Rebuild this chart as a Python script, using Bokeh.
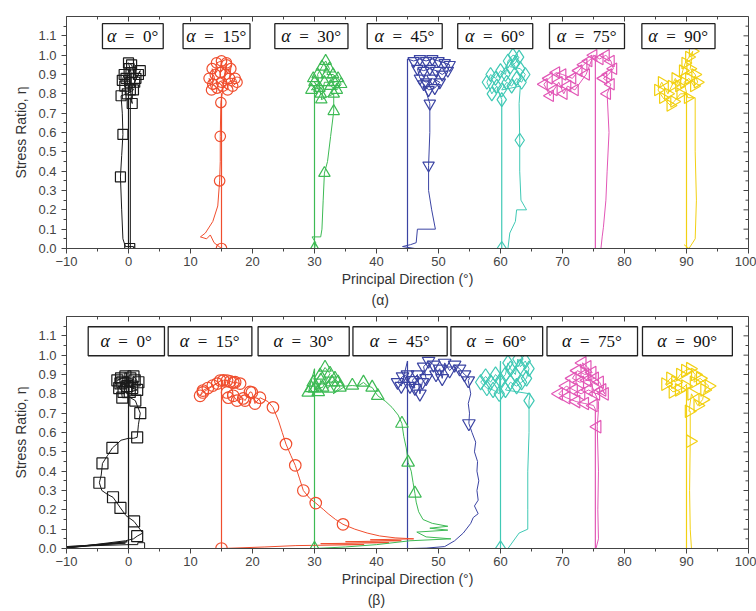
import math
from bokeh.plotting import figure
from bokeh.layouts import column
from bokeh.models import (SingleIntervalTicker, NumeralTickFormatter, Title, Range1d)
from bokeh.core.properties import value
from bokeh.embed import file_html
from bokeh.resources import INLINE

# ---------------- data ----------------
alphas = [0, 15, 30, 45, 60, 75, 90]
box_alpha = ["α"] * 7
box_rest = ["\u2002=\u20020°", "\u2002=\u200215°", "\u2002=\u200230°", "\u2002=\u200245°",
            "\u2002=\u200260°", "\u2002=\u200275°", "\u2002=\u200290°"]

# panel (a): loading verticals
a_up_x = [0.0, 15.0, 30.0, 45.0, 60.2, 75.3, 90.0]
a_up_top = [0.80, 0.80, 0.84, 0.98, 0.77, 1.00, 0.80]

a0_x = [0.3, 0.3, 0.6, 0.3, 1.0, 1.6, 1.9, 1.2, 0.5, 0.0, 0.4, -0.4, -1.0, -0.7, -0.6, 0.1, 0.2, 0.8, -0.2, -1.2, -1.0, -0.9, -1.1, -1.3, -1.1, -0.9, -0.5, 0.8, 0.8]
a0_y = [0.0, 0.78, 0.75, 0.82, 0.86, 0.90, 0.92, 0.88, 0.95, 0.96, 0.91, 0.88, 0.87, 0.90, 0.84, 0.93, 0.86, 0.82, 0.80, 0.79, 0.70, 0.59, 0.48, 0.37, 0.20, 0.05, 0.01, 0.01, 0.0]
a0_mx = [0.6, 0.3, 1.0, 1.6, 1.9, 1.2, 0.5, 0.0, 0.4, -0.4, -1.0, -0.7, -0.6, 0.1, 0.2, 0.8, -0.2, -1.2, -0.9, -1.3, 0.2]
a0_my = [0.75, 0.82, 0.86, 0.90, 0.92, 0.88, 0.95, 0.96, 0.91, 0.88, 0.87, 0.90, 0.84, 0.93, 0.86, 0.82, 0.80, 0.79, 0.59, 0.37, 0.0]

a15_x = [15.0, 14.3, 13.4, 13.0, 13.6, 13.5, 14.0, 14.2, 15.0, 14.8, 15.8, 15.6, 16.5, 16.3, 17.2, 17.5, 16.8, 15.0, 16.0, 15.2, 15.8, 14.9, 14.8, 14.8, 14.7, 14.4, 13.6, 12.4, 11.6, 12.6, 13.2, 13.8, 14.6, 15.0]
a15_y = [0.80, 0.83, 0.82, 0.88, 0.85, 0.93, 0.90, 0.96, 0.97, 0.91, 0.96, 0.90, 0.93, 0.88, 0.88, 0.86, 0.84, 0.86, 0.82, 0.84, 0.95, 0.755, 0.58, 0.45, 0.35, 0.22, 0.14, 0.08, 0.06, 0.05, 0.07, 0.03, 0.01, 0.0]
a15_mx = [14.3, 13.4, 13.0, 13.6, 13.5, 14.0, 14.2, 15.0, 14.8, 15.8, 15.6, 16.5, 16.3, 17.2, 17.5, 16.8, 15.0, 16.0, 15.2, 15.8, 14.9, 14.8, 14.7, 15.0]
a15_my = [0.83, 0.82, 0.88, 0.85, 0.93, 0.90, 0.96, 0.97, 0.91, 0.96, 0.90, 0.93, 0.88, 0.88, 0.86, 0.84, 0.86, 0.82, 0.84, 0.95, 0.755, 0.58, 0.35, 0.0]

a30_x = [30.0, 29.5, 30.8, 30.0, 31.0, 30.5, 31.2, 31.8, 32.4, 32.0, 33.0, 33.8, 34.3, 33.6, 32.6, 33.2, 31.6, 31.1, 33.1, 33.1, 32.6, 32.1, 31.6, 31.4, 31.2, 31.0, 29.6, 30.2, 30.0]
a30_y = [0.84, 0.82, 0.83, 0.86, 0.80, 0.90, 0.94, 0.97, 0.93, 0.90, 0.90, 0.88, 0.85, 0.82, 0.84, 0.86, 0.86, 0.77, 0.80, 0.71, 0.58, 0.45, 0.39, 0.25, 0.10, 0.06, 0.06, 0.03, 0.0]
a30_mx = [29.5, 30.8, 30.0, 31.0, 30.5, 31.2, 31.8, 32.4, 32.0, 33.0, 33.8, 34.3, 33.6, 32.6, 33.2, 31.6, 31.1, 33.1, 33.1, 31.6, 30.0, 29.8]
a30_my = [0.82, 0.83, 0.86, 0.80, 0.90, 0.94, 0.97, 0.93, 0.90, 0.90, 0.88, 0.85, 0.82, 0.84, 0.86, 0.86, 0.77, 0.80, 0.71, 0.39, 0.0, 0.88]

a45_x = [45.0, 46.0, 47.0, 48.0, 49.0, 50.0, 51.0, 51.8, 51.5, 50.6, 49.6, 48.6, 47.6, 46.6, 47.0, 48.0, 49.0, 50.2, 49.4, 48.4, 47.6, 48.6, 48.6, 48.4, 48.4, 48.9, 49.5, 46.6, 46.4, 45.5, 44.2, 46.2]
a45_y = [0.98, 0.97, 0.98, 0.97, 0.98, 0.97, 0.96, 0.95, 0.92, 0.90, 0.92, 0.93, 0.92, 0.93, 0.88, 0.86, 0.88, 0.86, 0.83, 0.82, 0.85, 0.75, 0.60, 0.43, 0.30, 0.20, 0.10, 0.10, 0.03, 0.02, 0.01, 0.0]
a45_mx = [46.0, 47.0, 48.0, 49.0, 50.0, 51.0, 51.8, 51.5, 50.6, 49.6, 48.6, 47.6, 46.6, 47.0, 48.0, 49.0, 50.2, 49.4, 48.4, 47.6, 48.6, 48.4]
a45_my = [0.97, 0.98, 0.97, 0.98, 0.97, 0.96, 0.95, 0.92, 0.90, 0.92, 0.93, 0.92, 0.93, 0.88, 0.86, 0.88, 0.86, 0.83, 0.82, 0.85, 0.75, 0.43]

a60_x = [60.2, 59.4, 58.6, 57.8, 58.4, 59.2, 60.0, 60.8, 61.2, 62.0, 63.0, 62.4, 61.6, 63.2, 64.0, 63.4, 62.6, 61.8, 61.0, 60.2, 63.2, 63.0, 63.1, 63.1, 63.3, 64.2, 62.6, 62.4, 61.5, 61.2, 59.0]
a60_y = [0.77, 0.84, 0.80, 0.86, 0.90, 0.88, 0.92, 0.90, 0.97, 1.00, 0.99, 0.96, 0.94, 0.93, 0.90, 0.86, 0.88, 0.84, 0.86, 0.82, 0.84, 0.75, 0.56, 0.40, 0.25, 0.20, 0.20, 0.14, 0.08, 0.0, 0.0]
a60_mx = [60.2, 59.4, 58.6, 57.8, 58.4, 59.2, 60.0, 60.8, 61.2, 62.0, 63.0, 62.4, 61.6, 63.2, 64.0, 63.4, 62.6, 61.8, 61.0, 60.2, 63.1, 60.2]
a60_my = [0.77, 0.84, 0.80, 0.86, 0.90, 0.88, 0.92, 0.90, 0.97, 1.00, 0.99, 0.96, 0.94, 0.93, 0.90, 0.86, 0.88, 0.84, 0.86, 0.82, 0.56, 0.0]

a75_x = [75.3, 74.2, 73.4, 72.6, 71.6, 70.0, 69.0, 67.8, 67.0, 68.0, 68.6, 69.4, 70.2, 70.8, 72.0, 73.8, 75.0, 76.0, 77.0, 77.8, 78.2, 77.4, 76.6, 77.8, 77.2, 77.5, 77.2, 77.0, 76.6, 76.4, 76.2, 74.0]
a75_y = [1.00, 0.97, 0.95, 0.92, 0.88, 0.90, 0.91, 0.88, 0.85, 0.79, 0.82, 0.86, 0.80, 0.84, 0.82, 0.90, 1.00, 0.98, 1.00, 0.97, 0.93, 0.90, 0.88, 0.85, 0.80, 0.60, 0.40, 0.25, 0.11, 0.06, 0.0, 0.0]
a75_mx = [74.2, 73.4, 72.6, 71.6, 70.0, 69.0, 67.8, 67.0, 68.0, 68.6, 69.4, 70.2, 70.8, 72.0, 73.8, 75.0, 76.0, 77.0, 77.8, 78.2, 77.4, 76.6, 77.8, 77.2]
a75_my = [0.97, 0.95, 0.92, 0.88, 0.90, 0.91, 0.88, 0.85, 0.79, 0.82, 0.86, 0.80, 0.84, 0.82, 0.90, 1.00, 0.98, 1.00, 0.97, 0.93, 0.90, 0.88, 0.85, 0.80]

a90_x = [90.0, 89.0, 88.0, 87.4, 86.2, 85.4, 86.0, 87.0, 87.6, 88.2, 88.8, 89.4, 89.8, 90.4, 91.0, 90.6, 91.4, 91.8, 91.2, 90.4, 89.6, 90.2, 91.4, 91.4, 91.6, 91.4, 90.4, 89.6]
a90_y = [0.80, 0.80, 0.76, 0.74, 0.78, 0.82, 0.86, 0.80, 0.84, 0.88, 0.84, 0.92, 0.96, 0.99, 1.02, 0.93, 0.90, 0.86, 0.84, 0.88, 0.86, 0.78, 0.78, 0.50, 0.25, 0.05, 0.0, 0.02]
a90_mx = [89.0, 88.0, 87.4, 86.2, 85.4, 86.0, 87.0, 87.6, 88.2, 88.8, 89.4, 89.8, 90.4, 91.0, 90.6, 91.4, 91.8, 91.2, 90.4, 89.6, 90.2]
a90_my = [0.80, 0.76, 0.74, 0.78, 0.82, 0.86, 0.80, 0.84, 0.88, 0.84, 0.92, 0.96, 0.99, 1.02, 0.93, 0.90, 0.86, 0.84, 0.88, 0.86, 0.78]

# panel (b): loading verticals
b_up_x = [0.0, 15.0, 30.0, 45.0, 60.0, 75.3, 90.0]
b_up_top = [0.89, 0.87, 0.93, 0.97, 0.97, 0.72, 0.85]

b0_x = [0.0, -1.8, -1.2, -0.5, 0.3, 1.0, 1.6, 0.8, 0.6, -0.2, -1.0, -1.5, -0.8, 0.2, 1.4, -1.3, -1.0, 0.3, 1.1, 1.4, 1.9, 1.6, 1.4, 0.8, 0.0, -1.2, -2.6, -3.4, -4.2, -4.4, -4.7, -4.3, -3.4, -2.5, -1.3, -0.4, 0.9, 1.6, 2.3, 1.4, 0.8, -0.5, -10.0, -0.2, -10.0, -0.5, -10.0, 0.0, 1.5, 1.5, 2.6, 2.6]
b0_y = [0.89, 0.87, 0.88, 0.89, 0.88, 0.87, 0.86, 0.89, 0.83, 0.84, 0.86, 0.83, 0.81, 0.81, 0.82, 0.854, 0.78, 0.78, 0.765, 0.74, 0.70, 0.64, 0.575, 0.57, 0.57, 0.56, 0.52, 0.48, 0.44, 0.38, 0.34, 0.30, 0.28, 0.265, 0.21, 0.17, 0.14, 0.11, 0.08, 0.064, 0.05, 0.04, 0.002, 0.035, 0.006, 0.028, 0.01, 0.02, 0.02, 0.03, 0.03, 0.0]
b0_mx = [-1.8, -1.2, -0.5, 0.3, 1.0, 1.6, 0.8, 0.6, -0.2, -1.0, -1.5, -0.8, 0.2, 1.4, -1.3, -1.0, 1.1, 1.9, 1.4, -2.6, -4.2, -4.7, -2.5, -1.3, 0.9, 1.4]
b0_my = [0.87, 0.88, 0.89, 0.88, 0.87, 0.86, 0.89, 0.83, 0.84, 0.86, 0.83, 0.81, 0.81, 0.82, 0.854, 0.78, 0.765, 0.70, 0.575, 0.52, 0.44, 0.34, 0.265, 0.21, 0.14, 0.064]

b15_x = [15.0, 12.0, 11.55, 12.0, 12.8, 13.6, 14.3, 14.8, 15.3, 15.9, 16.4, 16.9, 17.2, 18.0, 15.9, 16.1, 16.9, 17.5, 18.5, 18.8, 19.6, 19.9, 20.4, 21.2, 22.5, 23.3, 24.2, 24.8, 25.4, 26.2, 26.9, 27.6, 28.2, 29.2, 30.2, 31.5, 32.2, 33.4, 34.6, 36.5, 38.5, 40.5, 43.0, 46.0, 39.0, 44.0, 35.0, 42.0, 31.0, 38.0, 27.0, 22.0, 15.0]
b15_y = [0.87, 0.807, 0.79, 0.817, 0.83, 0.843, 0.853, 0.869, 0.87, 0.869, 0.864, 0.858, 0.86, 0.853, 0.807, 0.78, 0.79, 0.765, 0.776, 0.765, 0.81, 0.807, 0.75, 0.78, 0.76, 0.73, 0.66, 0.60, 0.54, 0.48, 0.43, 0.36, 0.30, 0.26, 0.235, 0.20, 0.18, 0.15, 0.125, 0.10, 0.08, 0.065, 0.055, 0.05, 0.045, 0.04, 0.035, 0.03, 0.025, 0.02, 0.015, 0.008, 0.0]
b15_mx = [12.0, 11.55, 12.0, 12.8, 13.6, 14.3, 14.8, 15.3, 15.9, 16.4, 16.9, 17.2, 18.0, 15.9, 16.1, 16.9, 17.5, 18.5, 18.8, 19.6, 19.9, 20.4, 21.2, 23.3, 25.4, 26.9, 28.2, 30.2, 34.6, 15.0]
b15_my = [0.807, 0.79, 0.817, 0.83, 0.843, 0.853, 0.869, 0.87, 0.869, 0.864, 0.858, 0.86, 0.853, 0.807, 0.78, 0.79, 0.765, 0.776, 0.765, 0.81, 0.807, 0.75, 0.78, 0.73, 0.54, 0.43, 0.30, 0.235, 0.125, 0.0]

b30_x = [30.0, 29.0, 29.5, 29.8, 30.9, 31.7, 32.5, 31.3, 30.1, 30.6, 31.0, 32.2, 32.8, 33.3, 33.8, 34.1, 33.0, 35.0, 36.1, 37.0, 37.9, 38.6, 39.3, 40.2, 41.5, 42.5, 43.5, 44.1, 44.4, 44.8, 45.1, 45.6, 45.9, 46.2, 46.4, 46.8, 47.5, 49.0, 51.5, 48.6, 51.5, 46.5, 48.0, 52.0, 45.4, 40.0, 35.0, 30.0]
b30_y = [0.93, 0.807, 0.83, 0.859, 0.895, 0.936, 0.905, 0.833, 0.828, 0.81, 0.87, 0.828, 0.86, 0.879, 0.86, 0.833, 0.80, 0.84, 0.843, 0.84, 0.859, 0.84, 0.833, 0.79, 0.76, 0.73, 0.69, 0.646, 0.58, 0.52, 0.445, 0.40, 0.34, 0.285, 0.24, 0.19, 0.15, 0.13, 0.115, 0.105, 0.095, 0.085, 0.06, 0.05, 0.04, 0.02, 0.008, 0.0]
b30_mx = [29.0, 29.5, 29.8, 30.9, 31.7, 32.5, 31.3, 30.1, 30.6, 31.0, 32.2, 32.8, 33.3, 33.8, 34.1, 36.1, 37.9, 39.3, 40.2, 44.1, 45.1, 46.2, 30.0]
b30_my = [0.807, 0.83, 0.859, 0.895, 0.936, 0.905, 0.833, 0.828, 0.81, 0.87, 0.828, 0.86, 0.879, 0.86, 0.833, 0.843, 0.859, 0.833, 0.79, 0.646, 0.445, 0.285, 0.0]

b45_x = [45.0, 44.0, 43.4, 44.2, 45.0, 45.4, 46.2, 45.8, 46.6, 47.0, 47.4, 48.0, 47.6, 48.4, 49.2, 49.6, 50.2, 50.6, 51.0, 51.8, 52.6, 53.4, 54.2, 55.0, 54.8, 55.2, 54.8, 55.0, 54.9, 55.4, 56.0, 55.8, 56.3, 56.2, 56.5, 56.2, 56.4, 55.8, 56.4, 55.6, 55.2, 54.0, 52.6, 51.0, 48.0, 45.5]
b45_y = [0.97, 0.84, 0.86, 0.89, 0.90, 0.84, 0.83, 0.87, 0.90, 0.80, 0.86, 0.88, 0.94, 0.97, 0.95, 0.90, 0.93, 0.88, 0.96, 0.92, 0.95, 0.93, 0.90, 0.88, 0.869, 0.80, 0.75, 0.70, 0.647, 0.60, 0.55, 0.50, 0.45, 0.40, 0.35, 0.30, 0.25, 0.22, 0.18, 0.16, 0.13, 0.08, 0.04, 0.01, 0.002, 0.0]
b45_mx = [44.0, 43.4, 44.2, 45.0, 45.4, 46.2, 45.8, 46.6, 47.0, 47.4, 48.0, 47.6, 48.4, 49.2, 49.6, 50.2, 50.6, 51.0, 51.8, 52.6, 53.4, 54.2, 54.8, 54.9]
b45_my = [0.84, 0.86, 0.89, 0.90, 0.84, 0.83, 0.87, 0.90, 0.80, 0.86, 0.88, 0.94, 0.97, 0.95, 0.90, 0.93, 0.88, 0.96, 0.92, 0.95, 0.93, 0.90, 0.869, 0.647]

b60_x = [60.0, 59.8, 58.8, 57.8, 56.8, 57.6, 58.4, 59.2, 60.0, 60.8, 61.2, 61.6, 62.4, 62.8, 63.2, 64.0, 64.6, 64.2, 63.4, 62.6, 61.6, 60.8, 64.8, 64.6, 64.6, 64.4, 64.4, 64.4, 63.0, 61.2, 59.4]
b60_y = [0.97, 0.80, 0.82, 0.83, 0.86, 0.89, 0.86, 0.90, 0.87, 0.90, 0.96, 0.93, 0.90, 0.98, 0.94, 0.97, 0.93, 0.88, 0.86, 0.84, 0.86, 0.82, 0.80, 0.765, 0.60, 0.40, 0.20, 0.10, 0.08, 0.0, 0.0]
b60_mx = [59.8, 58.8, 57.8, 56.8, 57.6, 58.4, 59.2, 60.0, 60.8, 61.2, 61.6, 62.4, 62.8, 63.2, 64.0, 64.6, 64.2, 63.4, 62.6, 61.6, 60.8, 64.6, 60.0]
b60_my = [0.80, 0.82, 0.83, 0.86, 0.89, 0.86, 0.90, 0.87, 0.90, 0.96, 0.93, 0.90, 0.98, 0.94, 0.97, 0.93, 0.88, 0.86, 0.84, 0.86, 0.82, 0.765, 0.0]

b75_x = [75.3, 75.0, 73.6, 72.2, 70.6, 69.4, 70.6, 71.8, 73.0, 74.2, 75.4, 76.4, 76.8, 76.0, 75.2, 74.0, 72.8, 71.6, 72.4, 73.6, 74.8, 74.0, 73.2, 75.8, 75.8, 75.6, 75.8, 75.7, 75.8, 75.4, 74.3]
b75_y = [0.72, 0.74, 0.75, 0.76, 0.78, 0.80, 0.84, 0.82, 0.80, 0.82, 0.80, 0.82, 0.80, 0.86, 0.88, 0.87, 0.86, 0.88, 0.92, 0.90, 0.91, 0.94, 0.96, 0.76, 0.72, 0.63, 0.40, 0.20, 0.05, 0.0, 0.0]
b75_mx = [75.0, 73.6, 72.2, 70.6, 69.4, 70.6, 71.8, 73.0, 74.2, 75.4, 76.4, 76.8, 76.0, 75.2, 74.0, 72.8, 71.6, 72.4, 73.6, 74.8, 74.0, 73.2, 75.6]
b75_my = [0.74, 0.75, 0.76, 0.78, 0.80, 0.84, 0.82, 0.80, 0.82, 0.80, 0.82, 0.80, 0.86, 0.88, 0.87, 0.86, 0.88, 0.92, 0.90, 0.91, 0.94, 0.96, 0.63]

b90_x = [90.0, 89.8, 88.8, 87.8, 86.6, 87.4, 88.2, 89.0, 89.8, 90.6, 91.4, 91.2, 92.2, 93.6, 92.9, 92.6, 91.8, 90.8, 90.4, 90.6, 90.6, 90.5, 90.6, 90.8, 89.6]
b90_y = [0.85, 0.84, 0.82, 0.81, 0.85, 0.88, 0.86, 0.90, 0.92, 0.93, 0.90, 0.86, 0.88, 0.84, 0.82, 0.77, 0.74, 0.80, 0.71, 0.71, 0.555, 0.30, 0.10, 0.0, 0.0]
b90_mx = [89.8, 88.8, 87.8, 86.6, 87.4, 88.2, 89.0, 89.8, 90.6, 91.4, 91.2, 92.2, 93.6, 92.9, 92.6, 91.8, 90.8, 90.4, 90.6]
b90_my = [0.84, 0.82, 0.81, 0.85, 0.88, 0.86, 0.90, 0.92, 0.93, 0.90, 0.86, 0.88, 0.84, 0.82, 0.77, 0.74, 0.80, 0.71, 0.555]

# ---------------- styles / layout ----------------
COLORS = ["#1a1a1a", "#f04e2e", "#3dba54", "#3b44a3", "#40c9b5", "#e257b6", "#f2d012"]
MARKERS = [("square", 0.0, 1.0), ("circle", 0.0, 1.05), ("triangle", 0.0, 1.15),
           ("inverted_triangle", 0.0, 1.15), ("diamond", 0.0, 1.4),
           ("triangle", math.pi / 2, 1.15), ("triangle", -math.pi / 2, 1.15)]

a_box_l = [-4.2, 8.8, 23.6, 38.5, 53.1, 67.9, 82.8]
a_box_r = [5.6, 19.6, 35.4, 50.6, 65.2, 80.0, 94.6]
b_box_l = [-6.5, 6.4, 20.9, 36.2, 52.0, 67.5, 82.9]
b_box_r = [5.8, 19.9, 35.6, 51.4, 66.8, 82.1, 97.4]

FONT = "Liberation Sans"
AXC = "#444444"
PX_X = 682 / 110.0   # pixels per x unit (frame)
PX_Y = 232 / 1.2     # pixels per y unit (frame)
NBSP = "\u00a0"

a_series = [(a0_x, a0_y, a0_mx, a0_my), (a15_x, a15_y, a15_mx, a15_my), (a30_x, a30_y, a30_mx, a30_my),
            (a45_x, a45_y, a45_mx, a45_my), (a60_x, a60_y, a60_mx, a60_my), (a75_x, a75_y, a75_mx, a75_my),
            (a90_x, a90_y, a90_mx, a90_my)]
b_series = [(b0_x, b0_y, b0_mx, b0_my), (b15_x, b15_y, b15_mx, b15_my), (b30_x, b30_y, b30_mx, b30_my),
            (b45_x, b45_y, b45_mx, b45_my), (b60_x, b60_y, b60_mx, b60_my), (b75_x, b75_y, b75_mx, b75_my),
            (b90_x, b90_y, b90_mx, b90_my)]


def make_panel(series, up_x, up_top, box_l, box_r, box_b, box_t, tag, height, top, bottom, msize):
    p = figure(width=756, height=height, x_range=Range1d(-10, 100), y_range=Range1d(0, 1.2),
               output_backend="svg", toolbar_location=None,
               min_border_left=66, min_border_right=8, min_border_top=top, min_border_bottom=bottom)
    p.grid.visible = False
    p.outline_line_color = AXC
    p.background_fill_color = "white"
    p.border_fill_color = "white"

    p.xaxis.ticker = SingleIntervalTicker(interval=10, num_minor_ticks=2)
    p.yaxis.ticker = SingleIntervalTicker(interval=0.1, num_minor_ticks=2)
    p.yaxis.formatter = NumeralTickFormatter(format="0.0")
    for ax in (p.xaxis[0], p.yaxis[0]):
        ax.axis_line_color = AXC
        ax.major_tick_line_color = AXC
        ax.minor_tick_line_color = AXC
        ax.major_tick_out = 5
        ax.major_tick_in = 0
        ax.minor_tick_out = 3
        ax.minor_tick_in = 0
        ax.major_label_text_font = FONT
        ax.major_label_text_font_size = "13px"
        ax.major_label_text_color = "#444444"
        ax.axis_label_text_font = FONT
        ax.axis_label_text_font_size = "14px"
        ax.axis_label_text_font_style = "normal"
        ax.axis_label_text_color = "#333333"
    p.xaxis.axis_label = "Principal Direction (°)"
    p.xaxis.axis_label_standoff = 2
    p.xaxis.major_label_standoff = 3
    p.yaxis.axis_label = "Stress Ratio, η"
    p.yaxis.axis_label_standoff = 6

    # panel tag below the axis title (trailing no-break spaces shift it left of centre)
    p.add_layout(Title(text=tag, align="center", standoff=0,
                       text_font=FONT, text_font_size="14px", text_font_style="normal",
                       text_color="#333333"), "below")

    # inward ticks on top and right edges of the frame
    tx = [-10 + 5 * k for k in range(23)]
    tlen = [5 if k % 2 == 0 else 3 for k in range(23)]
    p.segment(x0=tx, y0=[1.2] * 23, x1=tx, y1=[1.2 - L / PX_Y for L in tlen],
              line_color=AXC, line_width=1)
    ty = [0.05 * k for k in range(25)]
    tlen2 = [5 if k % 2 == 0 else 3 for k in range(25)]
    p.segment(x0=[100] * 25, y0=ty, x1=[100 - L / PX_X for L in tlen2], y1=ty,
              line_color=AXC, line_width=1)

    # loading vertical lines
    p.segment(x0=up_x, y0=[0.0] * len(up_x), x1=up_x, y1=up_top, line_color=COLORS, line_width=1.2)

    for i, (px_, py_, mx_, my_) in enumerate(series):
        c = COLORS[i]
        mk, ang, sc = MARKERS[i]
        p.line(px_, py_, line_color=c, line_width=1.0)
        p.scatter(mx_, my_, marker=mk, angle=ang, size=msize * sc, fill_color=None,
                  line_color=c, line_width=1.2)

    # label boxes
    p.quad(left=box_l, right=box_r, bottom=[box_b] * 7, top=[box_t] * 7,
           fill_color="white", line_color="#222222", line_width=1.3)
    cx = [(l + r) / 2 for l, r in zip(box_l, box_r)]
    cy = [(box_b + box_t) / 2] * 7
    w_alpha = 9.0
    offs = [(w_alpha - (33.5 + 8.5 * (len(str(a))))) / 2 for a in alphas]
    p.text(x=cx, y=cy, text=box_alpha, x_offset=offs, text_align="right",
           text_baseline="middle", text_font=value("Liberation Serif"),
           text_font_style="italic", text_font_size="18px", text_color="#111111")
    p.text(x=cx, y=cy, text=box_rest, x_offset=offs, text_align="left",
           text_baseline="middle", text_font=value("Liberation Serif"),
           text_font_size="17px", text_color="#111111")
    return p


p1 = make_panel(a_series, a_up_x, a_up_top, a_box_l, a_box_r, 1.034, 1.163,
                "(α)" + NBSP * 14, 314, 16, 66, 10)
p2 = make_panel(b_series, b_up_x, b_up_top, b_box_l, b_box_r, 0.997, 1.147,
                "(β)" + NBSP * 16, 297, 2, 63, 11)

layout = column(p1, p2, spacing=0)
open("out.html", "w").write(file_html(layout, INLINE))
